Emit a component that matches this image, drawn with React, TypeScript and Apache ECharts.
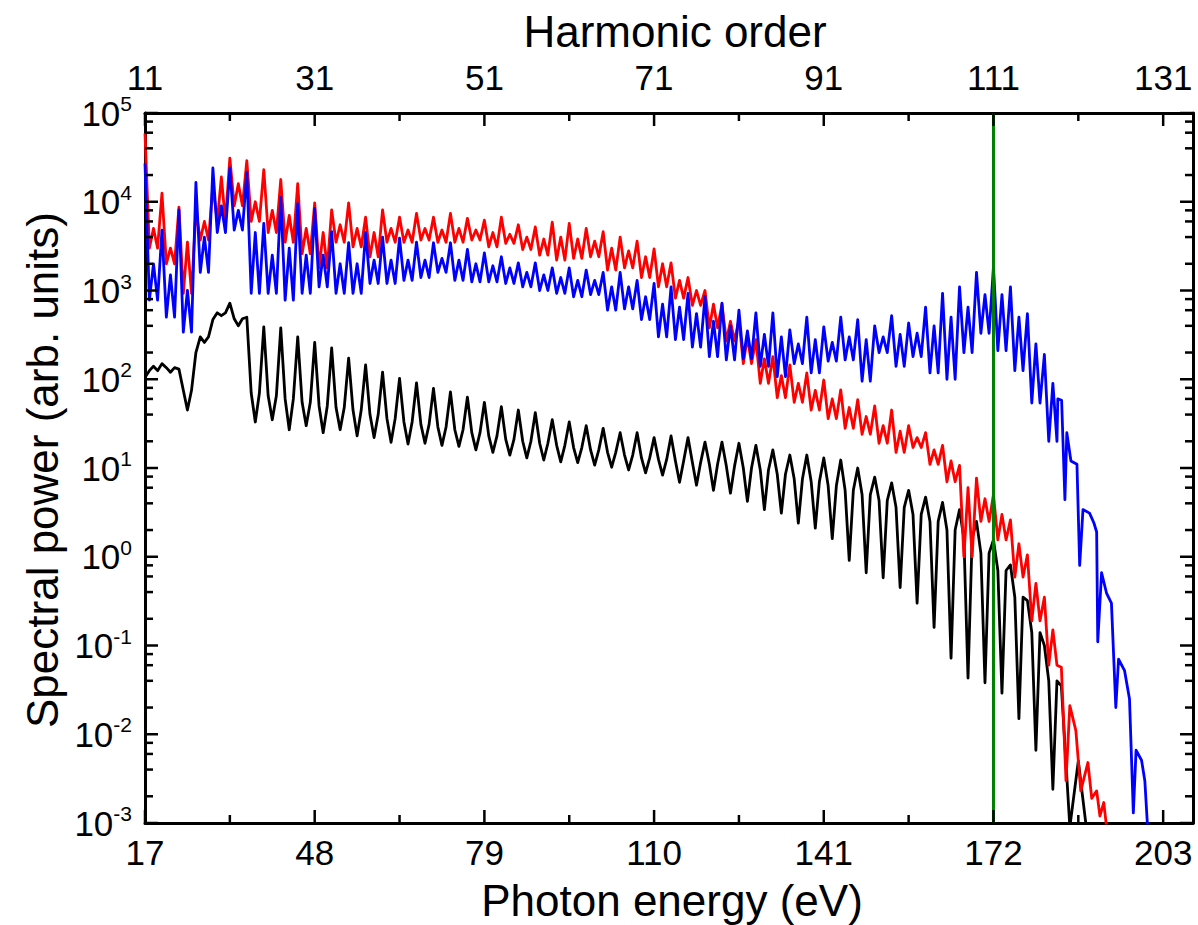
import React, { useEffect, useRef } from 'react';
import * as echarts from 'echarts';

// Harmonic grid (odd harmonics of 1.55 eV) and the gaps between them, in eV
const harmonicPeakEnergy = [
  17.05, 20.15, 23.25, 26.35, 29.45, 32.55, 35.65, 38.75, 41.85, 44.95,
  48.05, 51.15, 54.25, 57.35, 60.45, 63.55, 66.65, 69.75, 72.85, 75.95,
  79.05, 82.15, 85.25, 88.35, 91.45, 94.55, 97.65, 100.75, 103.85, 106.95,
  110.05, 113.15, 116.25, 119.35, 122.45, 125.55, 128.65, 131.75, 134.85, 137.95,
  141.05, 144.15, 147.25, 150.35, 153.45, 156.55, 159.65, 162.75, 165.85, 168.95,
  172.05, 175.15, 178.25, 181.35,
];
const harmonicGapEnergy = [
  18.6, 21.7, 24.8, 27.9, 31.0, 34.1, 37.2, 40.3, 43.4, 46.5,
  49.6, 52.7, 55.8, 58.9, 62.0, 65.1, 68.2, 71.3, 74.4, 77.5,
  80.6, 83.7, 86.8, 89.9, 93.0, 96.1, 99.2, 102.3, 105.4, 108.5,
  111.6, 114.7, 117.8, 120.9, 124.0, 127.1, 130.2, 133.3, 136.4, 139.5,
  142.6, 145.7, 148.8, 151.9, 155.0, 158.1, 161.2, 164.3, 167.4, 170.5,
  173.6, 176.7, 179.8, 182.9,
];
// samples on either side of each gap centre (eV)
const gapSideOffset = 0.75;

// Black spectrum: harmonic peaks, level beside each gap, value at gap centre
const blackPeaks = [
  105, 150, 130, 200, 470, 720, 500, 390, 380, 300,
  260, 225, 173, 145, 120, 102, 91, 79, 72, 63,
  55, 49, 45, 42, 35, 33, 30, 28, 25, 25,
  22, 23, 22, 19.6, 19.6, 19, 18, 16, 14, 14,
  13, 12.3, 10, 7.9, 6.8, 5.6, 4.7, 4.1, 3.4, 2.5,
  1.55, 0.81, 0.32, 0.1,
];
const blackSides = [
  125, 135, 75, 300, 560, 480, 70, 65, 60, 55,
  50, 48, 45, 40, 36, 33, 31, 29, 27, 25,
  23, 21, 20, 19, 18, 17, 16, 15, 14, 13,
  12.5, 12, 11.5, 11, 10.5, 10, 9.5, 8.5, 7.5, 7,
  6.3, 5.6, 5, 4.3, 3.6, 3.0, 2.5, 2.0, 1.6, 1.1,
  0.7, 0.35, 0.14, 0.04,
];
const blackGaps = [
  140, 120, 45, 260, 520, 400, 33, 35, 27, 30,
  25, 27, 23, 22, 19.5, 18.6, 19, 18, 17.5, 16,
  15, 14, 13, 12.3, 11.7, 11.5, 10.8, 10.2, 9.5, 8.8,
  8.3, 6.9, 6.4, 5.6, 5.2, 4.2, 3.4, 3.1, 2.4, 2.1,
  1.6, 0.91, 0.66, 0.58, 0.45, 0.3, 0.16, 0.072, 0.043, 0.038,
  0.029, 0.015, 0.0066, 0.0024,
];
const blackTailEnergy = [184.45, 186.0, 187.55, 189.1];
const blackTailPower = [0.035, 0.0009, 0.005, 0.0008];

// Red spectrum
const redPeaks = [
  59000, 12500, 8700, 8000, 15000, 31000, 29000, 23000, 17800, 16000,
  9700, 8100, 9700, 6700, 8100, 6700, 7400, 6700, 7400, 6500,
  6200, 6700, 5500, 5200, 5900, 5700, 5000, 4600, 4000, 3600,
  2950, 2050, 1400, 1000, 700, 470, 280, 180, 145, 118,
  98, 76, 59, 50, 45, 30, 25, 18, 10.7, 7.7,
  5.0, 2.6, 1.05, 0.35,
];
const redSides = [
  3000, 2000, 930, 3700, 6000, 9000, 6000, 4500, 3500, 2600,
  1800, 3500, 3100, 2400, 3500, 3500, 3700, 3500, 3500, 3700,
  3100, 3400, 2900, 2500, 2200, 2300, 2400, 1700, 1800, 1400,
  1100, 820, 680, 380, 270, 150, 90, 62, 55, 45,
  36, 28, 24, 19, 15, 17, 11, 7, 1.0, 2.5,
  1.55, 0.59, 0.19, 0.06,
];
const redGaps = [
  5000, 3000, 3500, 6000, 19000, 16000, 10000, 8000, 7000, 5000,
  4500, 5500, 5000, 4500, 5000, 4800, 5000, 4800, 5000, 4800,
  4500, 4300, 4000, 3800, 4000, 3800, 3600, 3000, 2800, 2400,
  2000, 1300, 1000, 700, 450, 300, 170, 110, 90, 75,
  60, 48, 38, 30, 26, 22, 16, 12, 6, 4.5,
  3.0, 1.4, 0.5, 0.15,
];
const redTailEnergy = [184.45, 185.3, 186.0, 187.1, 188.0, 189.3, 190.0, 190.9, 191.5, 192.2, 192.8];
const redTailPower = [0.057, 0.003, 0.021, 0.011, 0.0023, 0.0048, 0.0019, 0.0023, 0.0012, 0.0017, 0.0008];

// Blue spectrum
const bluePeaks = [
  27000, 4800, 8100, 16500, 24000, 24000, 21500, 5700, 11200, 9500,
  8400, 4600, 3450, 4500, 4000, 3900, 3500, 3450, 3450, 2900,
  2650, 2400, 2050, 2050, 1800, 1800, 1700, 1600, 1600, 1300,
  1200, 1100, 930, 850, 720, 600, 560, 560, 360, 500,
  390, 500, 470, 400, 520, 430, 650, 930, 1100, 1600,
  1850, 1100, 550, 190,
];
const blueSides = [
  780, 500, 340, 1600, 4500, 4800, 930, 930, 780, 930,
  1100, 930, 930, 1200, 1200, 1300, 1400, 1600, 1300, 1250,
  1250, 1200, 1100, 1000, 930, 850, 900, 600, 620, 470,
  300, 280, 230, 180, 165, 170, 140, 107, 150, 118,
  160, 165, 95, 200, 140, 180, 118, 100, 200, 330,
  210, 125, 54, 20,
];
const blueGaps = [
  2000, 1500, 1000, 4000, 9000, 8000, 4500, 2500, 3000, 2500,
  2500, 2000, 2000, 2200, 2200, 2200, 2200, 2300, 2200, 2000,
  1900, 1800, 1600, 1500, 1400, 1300, 1300, 1100, 1100, 850,
  700, 650, 550, 450, 400, 350, 320, 300, 250, 280,
  260, 300, 280, 300, 320, 330, 400, 500, 650, 900,
  900, 500, 250, 90,
];
const blueTailEnergy = [
  183.8, 184.5, 185.1, 185.45, 186.2, 187.3, 187.8, 188.4, 189.6, 190.4,
  190.9, 191.1, 191.8, 192.7, 193.6, 194.4, 194.9, 196.0, 196.9, 197.6,
  198.1, 199.1, 199.7, 200.2,
];
const blueTailPower = [
  60, 58, 4.4, 25, 12, 11, 0.8, 3.4, 3.1, 2.4,
  1.9, 0.11, 0.66, 0.39, 0.3, 0.02, 0.07, 0.052, 0.025, 0.0013,
  0.0066, 0.0051, 0.003, 0.0009,
];

// Marker line (harmonic 111)
const markerEnergy = 172.05;

// Axes
const energyMin = 17.05;
const energyMax = 208.5;
const powerMin = 1e-3;
const powerMax = 1e5;
const energyTickValues = [17.05, 48.05, 79.05, 110.05, 141.05, 172.05, 203.05];
const energyTickLabels = ['17', '48', '79', '110', '141', '172', '203'];
const harmonicTickLabels = ['11', '31', '51', '71', '91', '111', '131'];
const minorEnergyTicks = [32.55, 63.55, 94.55, 125.55, 156.55, 187.55];
const powerDecades = [1e-3, 1e-2, 1e-1, 1, 10, 100, 1000, 1e4, 1e5];
const minorMultipliers = [2, 4, 6, 8];

const FONT = '"Liberation Sans", Arial, Helvetica, sans-serif';

function buildSeries(peaks: number[], sides: number[], gaps: number[], tailE: number[], tailV: number[]) {
  const pts: number[][] = [];
  for (let i = 0; i < harmonicPeakEnergy.length; i++) {
    pts.push([harmonicPeakEnergy[i], peaks[i]]);
    pts.push([harmonicGapEnergy[i] - gapSideOffset, sides[i]]);
    pts.push([harmonicGapEnergy[i], gaps[i]]);
    pts.push([harmonicGapEnergy[i] + gapSideOffset, sides[i]]);
  }
  tailE.forEach((e, i) => pts.push([e, tailV[i]]));
  return pts;
}

function nearestTick(v: number) {
  let best = 0;
  for (let i = 1; i < energyTickValues.length; i++) {
    if (Math.abs(energyTickValues[i] - v) < Math.abs(energyTickValues[best] - v)) best = i;
  }
  return best;
}

export default function App() {
  const ref = useRef<HTMLDivElement>(null);
  useEffect(() => {
    if (!ref.current) return;
    const chart = echarts.init(ref.current, undefined, { renderer: 'svg' });
    const minorPower: number[] = [];
    powerDecades.slice(0, -1).forEach((d) => minorMultipliers.forEach((m) => minorPower.push(d * m)));

    // tick marks: [x value, y value, dx px, dy px]
    const MAJOR = 13;
    const MINOR = 8;
    const tickItems: number[][] = [];
    energyTickValues.forEach((e) => {
      tickItems.push([e, powerMin, 0, -MAJOR]);
      tickItems.push([e, powerMax, 0, MAJOR]);
    });
    minorEnergyTicks.forEach((e) => {
      tickItems.push([e, powerMin, 0, -MINOR]);
      tickItems.push([e, powerMax, 0, MINOR]);
    });
    powerDecades.forEach((p) => {
      tickItems.push([energyMin, p, MAJOR, 0]);
      tickItems.push([energyMax, p, -MAJOR, 0]);
    });
    minorPower.forEach((p) => {
      tickItems.push([energyMin, p, MINOR, 0]);
      tickItems.push([energyMax, p, -MINOR, 0]);
    });

    const axisLine = { show: true, onZero: false, lineStyle: { color: '#000', width: 3 } };

    const baseX = { type: 'value', min: energyMin, max: energyMax, gridIndex: 0, splitLine: { show: false } };
    const baseY = { type: 'log', logBase: 10, min: powerMin, max: powerMax, gridIndex: 0, splitLine: { show: false } };

    const lineSeries = (name: string, color: string, data: number[][]) => ({
      type: 'line',
      name,
      xAxisIndex: 0,
      yAxisIndex: 0,
      data,
      showSymbol: false,
      symbol: 'none',
      clip: true,
      lineStyle: { color, width: 2.8, join: 'round' },
      itemStyle: { color },
    });

    const titles = [
      {
        type: 'text',
        x: 675,
        y: 31,
        style: { text: 'Harmonic order', font: `44px ${FONT}`, fill: '#000', textAlign: 'center', textVerticalAlign: 'middle' },
      },
      {
        type: 'text',
        x: 672,
        y: 900,
        style: { text: 'Photon energy (eV)', font: `44px ${FONT}`, fill: '#000', textAlign: 'center', textVerticalAlign: 'middle' },
      },
      {
        type: 'text',
        x: 42,
        y: 470,
        rotation: Math.PI / 2,
        style: { text: 'Spectral power (arb. units)', font: `44px ${FONT}`, fill: '#000', textAlign: 'center', textVerticalAlign: 'middle' },
      },
    ];

    const option: any = {
      animation: false,
      backgroundColor: '#fff',
      grid: { left: 145, top: 113, width: 1048, height: 710, containLabel: false },
      xAxis: [
        {
          ...baseX,
          position: 'bottom',
          axisLine,
          axisTick: { show: false },
          axisLabel: {
            show: true,
            customValues: energyTickValues,
            formatter: (v: number) => energyTickLabels[nearestTick(v)],
            color: '#000',
            fontSize: 35,
            fontFamily: FONT,
            margin: 12,
          },
        },
        {
          ...baseX,
          position: 'top',
          axisLine,
          axisTick: { show: false },
          axisLabel: {
            show: true,
            customValues: energyTickValues,
            formatter: (v: number) => harmonicTickLabels[nearestTick(v)],
            color: '#000',
            fontSize: 35,
            fontFamily: FONT,
            margin: 18,
          },
        },
      ],
      yAxis: [
        {
          ...baseY,
          position: 'left',
          axisLine,
          axisTick: { show: false },
          axisLabel: {
            show: true,
            customValues: powerDecades,
            margin: 13,
            formatter: (v: number) => `{a|10}{b|${Math.round(Math.log10(v))}}`,
            rich: {
              a: { fontSize: 35, fontFamily: FONT, color: '#000', lineHeight: 40 },
              b: { fontSize: 21, fontFamily: FONT, color: '#000', lineHeight: 16, verticalAlign: 'top' },
            },
          },
        },
        {
          ...baseY,
          position: 'right',
          axisLine,
          axisTick: { show: false },
          axisLabel: { show: false },
        },
      ],
      series: [
        lineSeries('black', '#000000', buildSeries(blackPeaks, blackSides, blackGaps, blackTailEnergy, blackTailPower)),
        lineSeries('red', '#ff0000', buildSeries(redPeaks, redSides, redGaps, redTailEnergy, redTailPower)),
        lineSeries('blue', '#0000ff', buildSeries(bluePeaks, blueSides, blueGaps, blueTailEnergy, blueTailPower)),
        {
          type: 'line',
          name: 'marker',
          xAxisIndex: 0,
          yAxisIndex: 0,
          data: [
            [markerEnergy, powerMin],
            [markerEnergy, powerMax],
          ],
          showSymbol: false,
          symbol: 'none',
          lineStyle: { color: '#008000', width: 3 },
          itemStyle: { color: '#008000' },
        },
      ],
      graphic: titles,
    };
    chart.setOption(option);

    // tick marks drawn as thin rectangles placed through the chart's own scales
    const TW = 2.5;
    const tickRects = tickItems.map(([xv, yv, dx, dy]) => {
      const p = chart.convertToPixel({ gridIndex: 0 }, [xv, yv]) as number[];
      const x0 = Math.min(p[0], p[0] + dx);
      const y0 = Math.min(p[1], p[1] + dy);
      const vertical = dx === 0;
      return {
        type: 'rect',
        silent: true,
        z: 100,
        shape: vertical
          ? { x: p[0] - TW / 2, y: y0, width: TW, height: Math.abs(dy) }
          : { x: x0, y: p[1] - TW / 2, width: Math.abs(dx), height: TW },
        style: { fill: '#000' },
      };
    });
    chart.setOption({ graphic: [...titles, ...tickRects] });

    return () => chart.dispose();
  }, []);
  return <div ref={ref} style={{ position: 'absolute', left: 0, top: 0, width: 1198, height: 925 }} />;
}
